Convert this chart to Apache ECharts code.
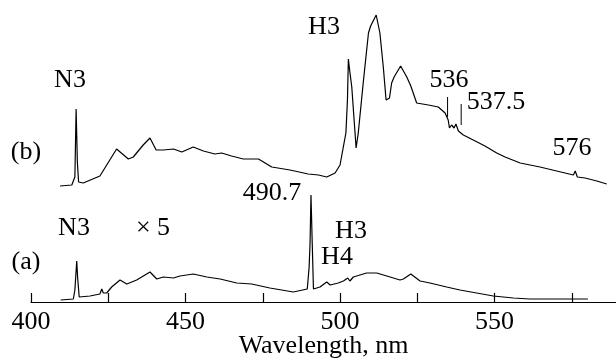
<!DOCTYPE html>
<html>
<head>
<meta charset="utf-8">
<script src="https://cdn.jsdelivr.net/npm/echarts@6/dist/echarts.min.js"></script>
<style>html,body{margin:0;padding:0;background:#fff}#c{width:616px;height:360px}</style>
</head>
<body>
<div id="c"></div>
<script>
// Spectrum (b): [wavelength nm, intensity (arb. units)]
const spectrumB = [
[409.4,116],[413.2,117],[413.8,118],[414.2,125],[414.6,193],[415.0,140],[415.4,120],[415.9,120],[416.9,119],
[422.3,126],[427.7,153],[431.5,143],[433.1,145],[436.3,157],[438.5,164],[440.5,152],[442.8,152],[446.1,153],
[448.8,150],[452.5,155],[455.8,151],[459.5,148],[461.7,149],[464.9,146],[468.7,143],[473.6,143],[477.9,135],
[483.8,132],[489.7,128],[493.0,127],[495.7,125],[498.4,129],[500.0,137],[501.3,159],[501.9,169],[502.4,202],
[502.7,243],[503.1,232],[503.8,215],[505.2,154],[505.9,169],[507.5,219],[509.2,269],[509.9,276],[511.7,287],
[512.9,269],[514.0,235],[514.9,202],[516.0,204],[516.7,219],[517.5,225],[519.6,236],[521.6,225],[522.9,216],
[524.8,199],[528.6,197],[531.8,195],[534.0,189],[535.0,182],[535.4,174],[536.1,177],[536.9,174],[537.5,178],
[538.3,171],[539.9,167],[543.1,162],[546.9,156],[550.7,149],[553.4,145],[558.3,139],[564.7,135],[570.1,131],
[575.5,127],[576.1,131],[576.8,125],[579.3,124],[583.1,121],[586.3,118]
];
// Spectrum (a), x5: [wavelength nm, intensity (arb. units)]
const spectrumA = [
[409.6,2],[413.7,3],[414.2,12],[414.8,41],[415.1,24],[415.6,5],[419.1,6],[422.3,8],[422.9,13],[423.4,9],
[423.9,11],[424.5,9],[426.1,15],[428.8,22],[431.0,18],[434.2,22],[438.5,30],[440.7,23],[442.8,25],[446.1,24],
[448.2,26],[452.5,28],[456.9,25],[461.2,23],[466.6,19],[471.4,18],[477.3,14],[484.9,10],[489.4,13],[490.0,35],
[490.3,59],[490.6,107],[491.0,59],[491.4,13],[493.5,15],[495.7,20],[496.8,17],[499.4,19],[501.1,21],[502.5,24],
[503.2,21],[504.3,25],[508.6,29],[511.9,29],[516.2,25],[519.4,22],[520.5,23],[522.9,28],[525.9,21],[529.1,19],
[534.5,15],[538.8,12],[544.2,9],[549.6,6],[556.1,4],[561.5,3],[580.2,3]
];
// Line markers on spectrum (b): [wavelength, from, to]
const markers = [[534.8,185,205],[539.2,177,198]];
const tickValues = [400,425,450,475,500,525,550,575];
const labelValues = [400,450,500,550];
const annotations = [
  {t:'N3', x:70, y:80}, {t:'(b)', x:26, y:152}, {t:'H3', x:324, y:27},
  {t:'536', x:449, y:80}, {t:'537.5', x:496, y:102}, {t:'576', x:572, y:148},
  {t:'490.7', x:272, y:193}, {t:'N3', x:74, y:228}, {t:'\u00d7 5', x:153, y:228},
  {t:'(a)', x:26, y:262}, {t:'H3', x:351, y:231}, {t:'H4', x:337, y:257}
];

const FONT = '"Liberation Serif","Times New Roman",serif';
const chart = echarts.init(document.getElementById('c'), null, {renderer:'canvas'});
const lineStyle = {color:'#000', width:1.2};
const series = [
  {type:'line', data:spectrumB, symbol:'none', lineStyle, animation:false},
  {type:'line', data:spectrumA, symbol:'none', lineStyle, animation:false}
];
markers.forEach(m => series.push({type:'line', data:[[m[0],m[1]],[m[0],m[2]]], symbol:'none', lineStyle:{color:'#000',width:1}, animation:false}));
chart.setOption({
  backgroundColor:'#fff',
  animation:false,
  grid:{left:31, right:0, top:0, bottom:58, containLabel:false, outerBoundsMode:'none'},
  xAxis:{
    type:'value', min:400, max:589.3,
    name:'Wavelength, nm', nameLocation:'middle', nameGap:31, nameMoveOverlap:false,
    nameTextStyle:{fontFamily:FONT, fontSize:26, color:'#000'},
    axisLine:{lineStyle:{color:'#000', width:1.2}},
    axisTick:{show:true, inside:true, length:9, customValues:tickValues, lineStyle:{color:'#000', width:1.2}},
    axisLabel:{customValues:labelValues, margin:7, fontFamily:FONT, fontSize:26, color:'#000'},
    splitLine:{show:false}
  },
  yAxis:{type:'value', min:0, max:302, show:false, splitLine:{show:false}},
  series,
  graphic: annotations.map(a => ({type:'text', x:a.x, y:a.y, style:{text:a.t, fontFamily:FONT, fontSize:26, fill:'#000', align:'center', verticalAlign:'middle'}}))
});
</script>
</body>
</html>
